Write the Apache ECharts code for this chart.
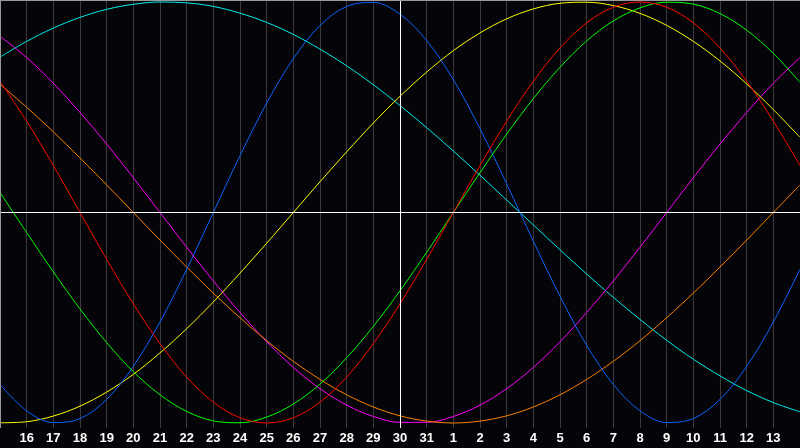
<!DOCTYPE html>
<html>
<head>
<meta charset="utf-8">
<script src="https://cdn.jsdelivr.net/npm/echarts@6/dist/echarts.min.js"></script>
<style>
html,body{margin:0;padding:0;background:#050408;}
#bio{width:800px;height:448px;}
</style>
</head>
<body>
<div id="bio"></div>
<script>
// day labels, index 0 = 15th ... index 30 = 14th of next month
var days = ['15','16','17','18','19','20','21','22','23','24','25','26','27','28','29','30','31',
	'1','2','3','4','5','6','7','8','9','10','11','12','13','14'];

// curve values, one per day
var blue = [-0.817,-0.942,-0.998,-0.979,-0.888,-0.731,-0.520,-0.270,0,0.270,0.520,0.731,0.888,0.979,0.998,0.942,
	0.817,0.631,0.398,0.136,-0.136,-0.398,-0.631,-0.817,-0.942,-0.998,-0.979,-0.888,-0.731,-0.520,-0.270];
var red = [0.623,0.434,0.223,0,-0.223,-0.434,-0.623,-0.782,-0.901,-0.975,-1.000,-0.975,-0.901,-0.782,-0.623,-0.434,
	-0.223,0,0.223,0.434,0.623,0.782,0.901,0.975,1.000,0.975,0.901,0.782,0.623,0.434,0.223];
var green = [0.095,-0.095,-0.282,-0.458,-0.618,-0.756,-0.866,-0.945,-0.990,-0.999,-0.972,-0.910,-0.815,-0.690,-0.541,-0.372,
	-0.189,0,0.189,0.372,0.541,0.690,0.815,0.910,0.972,0.999,0.990,0.945,0.866,0.756,0.618];
var magenta = [0.837,0.736,0.614,0.475,0.325,0.165,0,-0.165,-0.325,-0.475,-0.614,-0.736,-0.837,-0.915,-0.969,-0.997,
	-0.997,-0.969,-0.915,-0.837,-0.736,-0.614,-0.475,-0.325,-0.165,0,0.165,0.325,0.475,0.614,0.736];
var yellow = [-0.999,-0.994,-0.967,-0.920,-0.853,-0.769,-0.667,-0.552,-0.425,-0.288,-0.146,0,0.146,0.288,0.425,0.552,
	0.667,0.769,0.853,0.920,0.967,0.994,0.999,0.983,0.946,0.889,0.813,0.720,0.611,0.489,0.357];
var orange = [0.609,0.500,0.383,0.259,0.131,0,-0.131,-0.259,-0.383,-0.500,-0.609,-0.707,-0.793,-0.866,-0.924,-0.966,
	-0.991,-1.000,-0.991,-0.966,-0.924,-0.866,-0.793,-0.707,-0.609,-0.500,-0.383,-0.259,-0.131,0,0.131];
var cyan = [0.738,0.813,0.876,0.927,0.965,0.989,1.000,0.996,0.979,0.947,0.903,0.846,0.776,0.697,0.607,0.508,
	0.403,0.292,0.177,0.059,-0.059,-0.177,-0.292,-0.403,-0.508,-0.607,-0.697,-0.776,-0.846,-0.903,-0.947];

var main = {
	init: function() {
		var myChart = echarts.init(document.getElementById('bio'));

		function curve(data, color) {
			return {
				type: 'line',
				data: data,
				smooth: 0.35,
				symbol: 'none',
				silent: true,
				lineStyle: {
					color: color,
					width: 1
				}
			};
		}

		var series = [
			curve(cyan, '#00eeee'),
			curve(magenta, '#ff00ff'),
			curve(orange, '#ff8000'),
			curve(yellow, '#ffff00'),
			curve(blue, '#0a64ff'),
			curve(green, '#00ff00'),
			curve(red, '#ff0000')
		];
		// white center cross
		series[0].markLine = {
			silent: true,
			symbol: 'none',
			label: { show: false },
			lineStyle: { color: '#ffffff', width: 1, type: 'solid' },
			data: [{ yAxis: 0 }, { xAxis: 15 }]
		};

		var option = {
			backgroundColor: '#050408',
			animation: false,
			grid: {
				left: 0,
				right: 0,
				top: 0,
				bottom: 20
			},
			xAxis: {
				type: 'category',
				boundaryGap: false,
				data: days,
				axisLine: { show: true, lineStyle: { color: '#9a9a9a', width: 1 } },
				axisTick: { show: false },
				axisLabel: {
					interval: function(i) { return i > 0 && i < 30; },
					color: '#ffffff',
					fontFamily: 'Liberation Sans',
					fontWeight: 'bold',
					fontSize: 13,
					margin: 4
				},
				splitLine: {
					show: true,
					interval: function(i) { return i > 0 && i < 30; },
					lineStyle: { color: '#3a3a3a', width: 1 }
				}
			},
			yAxis: {
				type: 'value',
				min: -1.0238,
				max: 1.0095,
				axisLine: { show: false },
				axisTick: { show: false },
				axisLabel: { show: false },
				splitLine: { show: false }
			},
			graphic: [{
				type: 'line',
				shape: { x1: 0.5, y1: 0, x2: 0.5, y2: 428 },
				style: { stroke: '#9a9a9a', lineWidth: 1 },
				z: 100
			}, {
				type: 'line',
				shape: { x1: 0, y1: 0.5, x2: 800, y2: 0.5 },
				style: { stroke: '#9a9a9a', lineWidth: 1 },
				z: 100
			}],
			series: series
		};
		myChart.setOption(option);
	}
};

main.init();
</script>
</body>
</html>
